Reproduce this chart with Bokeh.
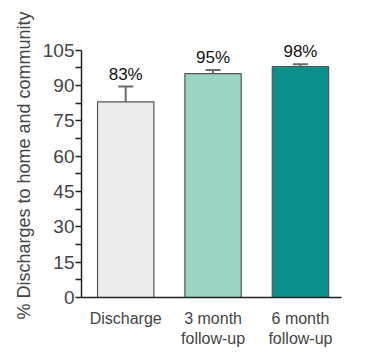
from bokeh.plotting import figure
from bokeh.models import ColumnDataSource, FixedTicker, Whisker, LabelSet, TeeHead
from bokeh.core.properties import value
from bokeh.embed import file_html
from bokeh.resources import INLINE

categories = ["Discharge", "3 month\nfollow-up", "6 month\nfollow-up"]
values = [83, 95, 98]
err_upper = [89.5, 96.5, 99]
labels = ["83%", "95%", "98%"]
colors = ["#ebebeb", "#98d5c4", "#0a8f8a"]
y_ticks = [0, 15, 30, 45, 60, 75, 90, 105]

xs = list(range(len(categories)))
src = ColumnDataSource(dict(x=xs, top=values, upper=err_upper, base=values,
                            lab=labels, color=colors))

p = figure(width=375, height=354, output_backend="svg", toolbar_location=None,
           x_range=(-0.506, 2.47), y_range=(0, 112),
           min_border_left=81, min_border_right=34, min_border_top=33, min_border_bottom=57)
p.outline_line_color = None
p.grid.grid_line_color = None
p.background_fill_color = "white"

p.add_layout(Whisker(source=src, base="x", upper="upper", lower="base",
                     line_color="#6a6a6a", line_width=2,
                     upper_head=TeeHead(size=15, line_color="#6a6a6a", line_width=2),
                     lower_head=None))

p.vbar(x="x", top="top", bottom=0, width=0.645, source=src, fill_color="color",
       line_color="#555555", line_width=1.2)

p.add_layout(LabelSet(x="x", y="upper", text="lab", source=src, text_align="center",
                      text_baseline="bottom", y_offset=3, text_font=value("Liberation Sans"),
                      text_font_size=value("17px"), text_color="#111111"))

ya = p.yaxis[0]
ya.ticker = FixedTicker(ticks=y_ticks, minor_ticks=[7.5 + 15 * i for i in range(7)])
ya.bounds = (0, 105)
ya.axis_label = "% Discharges to home and community"
ya.axis_label_text_font = "Liberation Sans"
ya.axis_label_text_font_style = "normal"
ya.axis_label_text_font_size = "18px"
ya.axis_label_standoff = 6
ya.major_label_text_font = "Liberation Sans"
ya.major_label_text_font_size = "19px"
ya.major_label_standoff = 1
ya.major_tick_in = 0
ya.major_tick_out = 6
ya.minor_tick_in = 0
ya.minor_tick_out = 6
ya.axis_line_width = 1.5
ya.major_tick_line_width = 1.5
ya.minor_tick_line_width = 1.5
ya.axis_line_color = "#222222"
ya.major_tick_line_color = "#222222"
ya.minor_tick_line_color = "#222222"

xa = p.xaxis[0]
xa.ticker = FixedTicker(ticks=xs)
xa.major_label_overrides = {i: c for i, c in enumerate(categories)}
xa.major_label_text_font = "Liberation Sans"
xa.major_label_text_font_size = "16px"
xa.major_label_standoff = 6
xa.major_tick_line_color = None
xa.minor_tick_line_color = None
xa.axis_line_width = 1.5
xa.axis_line_color = "#222222"

open("out.html", "w").write(file_html(p, INLINE))
